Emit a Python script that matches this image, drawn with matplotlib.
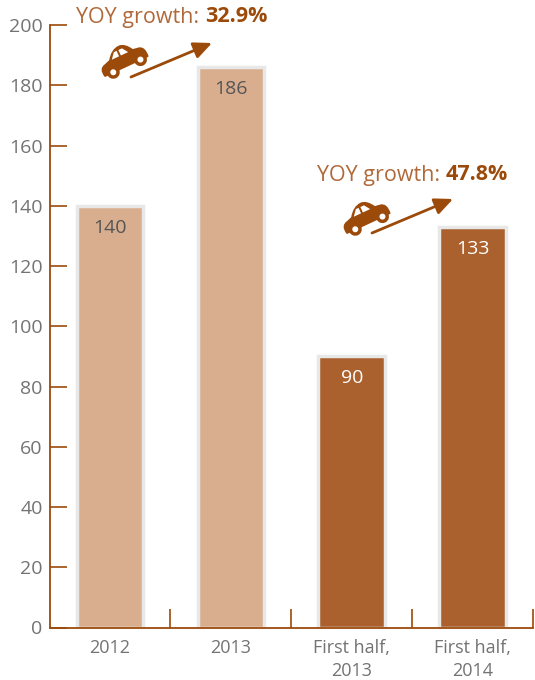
#!/usr/bin/env python3
"""Bar chart of vehicle volumes with YOY growth callouts."""

import matplotlib
matplotlib.use("Agg")
import matplotlib.pyplot as plt
from matplotlib.patches import Circle, PathPatch
from matplotlib.path import Path
from matplotlib.transforms import Affine2D

# ── Data ───────────────────────────────────────────────────────
categories = ["2012", "2013", "First half,\n2013", "First half,\n2014"]
values = [140, 186, 90, 133]
growth_labels = ["32.9%", "47.8%"]
y_ticks = list(range(0, 201, 20))

# ── Style ──────────────────────────────────────────────────────
LIGHT = "#d9ae8f"
DARK = "#aa612d"
RUST = "#9c4a0a"
GREY = "#737373"
EDGE = "#e8e8e8"

plt.rcParams["font.family"] = ["Open Sans", "DejaVu Sans"]


def draw_car(fig, cx, cy):
    """Small tilted car icon, centred on pixel position (cx, cy) from the top left."""
    tf = Affine2D().rotate_deg(25).translate(cx, 680 - cy)
    M, L, C, Z = Path.MOVETO, Path.LINETO, Path.CURVE3, Path.CLOSEPOLY
    verts = [(-23, -7), (-25, 2), (-18, 3), (-12, 5), (-6, 14), (2, 14), (8, 14), (13, 5),
             (19, 4), (25, 3), (24, -7), (-23, -7)]
    codes = [M, C, C, L, C, C, C, C, L, C, C, Z]
    parts = [PathPatch(Path(verts, codes), fc=RUST, ec=RUST, lw=1.2, joinstyle="round")]
    for wx, wy, r, col in [(-14, -7, 6.5, RUST), (16, -7, 6.5, RUST),
                           (-14, -7, 3, "white"), (16, -7, 3, "white")]:
        parts.append(Circle((wx, wy), r, fc=col, ec="none"))
    for win in ([(-10, 5), (-5, 11), (-2, 11), (-2, 5)], [(0, 5), (0, 11), (4, 11), (8, 5)]):
        parts.append(plt.Polygon(win, fc="white", ec="none"))
    for p in parts:
        p.set_transform(tf)
        fig.add_artist(p)


fig = plt.figure(figsize=(5.35, 6.8), dpi=100)
ax = fig.add_axes([49.5 / 535, (680 - 627.5) / 680, 483.5 / 535, 602.5 / 680])

# ── Bars ───────────────────────────────────────────────────────
colors = [LIGHT, LIGHT, DARK, DARK]
positions = range(len(categories))
ax.bar(positions, values, width=0.55, color=colors, edgecolor=EDGE, linewidth=2.5)

for x, v, col in zip(positions, values, colors):
    ax.text(x, v - 7.3, str(v), ha="center", va="center", fontsize=14,
            color="white" if col == DARK else "#555555")

# ── Axes ───────────────────────────────────────────────────────
ax.set_xlim(-0.5, 3.5)
ax.set_ylim(0, 200)
for side in ("top", "right"):
    ax.spines[side].set_visible(False)
for side in ("left", "bottom"):
    ax.spines[side].set_color(RUST)
    ax.spines[side].set_linewidth(1.3)

ax.set_yticks(y_ticks)
ax.tick_params(axis="y", direction="in", length=12, width=1.2, color=RUST,
               labelcolor=GREY, labelsize=14, pad=5)
ax.set_xticks([0.5, 1.5, 2.5, 3.5])
ax.set_xticklabels([])
ax.tick_params(axis="x", direction="in", length=14, width=1.2, color=RUST)

for x, label in zip(positions, categories):
    ax.annotate(label, (x, 0), xytext=(0, -8), textcoords="offset points", ha="center",
                va="top", fontsize=13, color=GREY, linespacing=1.4, annotation_clip=False)

# ── Growth callouts ────────────────────────────────────────────
callouts = [
    (76, 17, 131, 77, 212, 43, 123, 60),
    (317, 175, 372, 233, 453, 199, 365, 217),
]
for (tx, ty, x0, y0, x1, y1, cx, cy), pct in zip(callouts, growth_labels):
    t = fig.text(tx / 535, 1 - ty / 680, "YOY growth: ", fontsize=15.5, color="#b0693a",
                 ha="left", va="center")
    ax.annotate(pct, xy=(1, 0.5), xycoords=t, xytext=(0, 0), textcoords="offset points",
                fontsize=15.5, fontweight="bold", color=RUST, ha="left", va="center",
                annotation_clip=False)
    ax.annotate("", xy=(x1 / 535, 1 - y1 / 680), xytext=(x0 / 535, 1 - y0 / 680),
                xycoords="figure fraction", textcoords="figure fraction",
                arrowprops=dict(arrowstyle="-|>,head_length=1.1,head_width=0.5", color=RUST,
                                lw=2, shrinkA=0, shrinkB=0), annotation_clip=False)
    draw_car(fig, cx, cy)

plt.savefig("out.png", dpi=100)
